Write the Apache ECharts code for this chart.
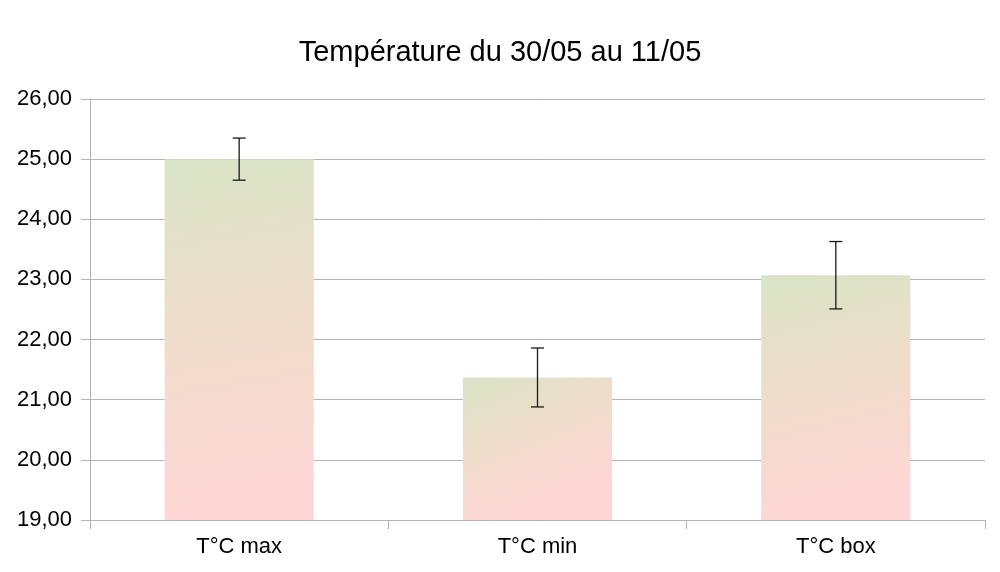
<!DOCTYPE html>
<html>
<head>
<meta charset="utf-8">
<script src="https://cdn.jsdelivr.net/npm/echarts@6/dist/echarts.min.js"></script>
<style>
html, body { margin: 0; padding: 0; background: #fff; }
#main { width: 1000px; height: 572px; }
</style>
</head>
<body>
<div id="main"></div>
<script>
var categories = ['T°C max', 'T°C min', 'T°C box'];
var values = [25.00, 21.37, 23.07];
var errors = [0.35, 0.49, 0.56];

var myChart = echarts.init(document.getElementById('main'));

var barColor = new echarts.graphic.LinearGradient(0, 0, 0.4, 1, [
    { offset: 0, color: '#d9e4c6' },
    { offset: 0.5, color: '#f0dccb' },
    { offset: 1, color: '#ffd6d6' }
]);

var option = {
    animation: false,
    title: {
        text: 'Température du 30/05 au 11/05',
        left: 'center',
        top: 33,
        textStyle: {
            fontFamily: 'Liberation Sans',
            fontSize: 29,
            fontWeight: 'normal',
            color: '#000'
        }
    },
    grid: {
        left: 90,
        right: 15,
        top: 99,
        bottom: 52
    },
    xAxis: {
        type: 'category',
        data: categories,
        axisLine: { lineStyle: { color: '#b3b3b3', width: 1 } },
        axisTick: { show: true, length: 9, lineStyle: { color: '#b3b3b3' } },
        axisLabel: {
            margin: 16,
            fontFamily: 'Liberation Sans',
            fontSize: 22,
            color: '#000'
        }
    },
    yAxis: {
        type: 'value',
        min: 19,
        max: 26,
        interval: 1,
        axisLine: { show: true, lineStyle: { color: '#b3b3b3', width: 1 } },
        axisTick: { show: true, length: 9, lineStyle: { color: '#b3b3b3' } },
        splitLine: { lineStyle: { color: '#b3b3b3', width: 1 } },
        axisLabel: {
            margin: 18,
            fontFamily: 'Liberation Sans',
            fontSize: 22,
            color: '#000',
            formatter: function (v) {
                return v.toFixed(2).replace('.', ',');
            }
        }
    },
    series: [{
        type: 'bar',
        data: values,
        barWidth: '50%',
        itemStyle: { color: barColor }
    }, {
        type: 'custom',
        data: values.map(function (v, i) { return [i, v - errors[i], v + errors[i]]; }),
        renderItem: function (params, api) {
            var lo = api.coord([api.value(0), api.value(1)]);
            var hi = api.coord([api.value(0), api.value(2)]);
            var half = 6.5;
            var style = { stroke: '#1a1a1a', lineWidth: 1.3 };
            return {
                type: 'group',
                children: [
                    { type: 'line', shape: { x1: hi[0], y1: hi[1], x2: lo[0], y2: lo[1] }, style: style },
                    { type: 'line', shape: { x1: hi[0] - half, y1: hi[1], x2: hi[0] + half, y2: hi[1] }, style: style },
                    { type: 'line', shape: { x1: lo[0] - half, y1: lo[1], x2: lo[0] + half, y2: lo[1] }, style: style }
                ]
            };
        },
        z: 5
    }]
};

myChart.setOption(option);
</script>
</body>
</html>
